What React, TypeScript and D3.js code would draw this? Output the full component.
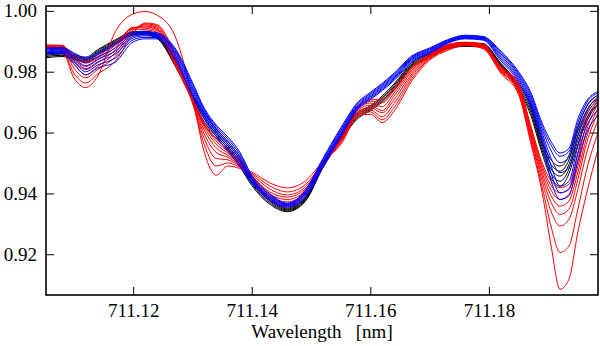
import React, { useEffect, useRef } from "react";
import * as d3 from "d3";

// wavelength grid (nm) shared by all the profiles
const wavelength = [
  711.1053, 711.108, 711.11, 711.112, 711.114, 711.117, 711.12, 711.122, 711.124, 711.127,
  711.13, 711.132, 711.134, 711.136, 711.138, 711.14, 711.143, 711.146, 711.149, 711.152,
  711.155, 711.158, 711.16, 711.162, 711.164, 711.167, 711.17, 711.173, 711.176, 711.179,
  711.182, 711.185, 711.187, 711.189, 711.1905, 711.192, 711.1935, 711.195, 711.1965, 711.1984,
];

// black profiles
const black1 = [.9862,.9866,.9856,.9848,.9872,.9905,.9932,.9933,.9922,.9838,.9725,.9665,.9612,.9570,.9520,.9450,.9385,.9352,.9385,.9500,.9590,.9668,.9688,.9720,.9760,.9830,.9862,.9888,.9895,.9893,.9828,.9760,.9700,.9570,.9510,.9490,.9525,.9620,.9685,.9725];
const black2 = [.9858,.9862,.9852,.9844,.9868,.9902,.9929,.9930,.9919,.9834,.9720,.9655,.9604,.9563,.9512,.9444,.9380,.9349,.9382,.9496,.9586,.9663,.9684,.9715,.9755,.9826,.9858,.9885,.9892,.9890,.9825,.9755,.9690,.9560,.9495,.9473,.9510,.9605,.9672,.9718];
const black3 = [.9854,.9858,.9848,.9840,.9864,.9898,.9926,.9928,.9916,.9830,.9715,.9645,.9596,.9556,.9504,.9438,.9375,.9346,.9379,.9492,.9582,.9658,.9680,.9710,.9750,.9822,.9854,.9882,.9889,.9887,.9822,.9750,.9680,.9550,.9480,.9457,.9495,.9590,.9660,.9710];
const black4 = [.9850,.9854,.9844,.9836,.9860,.9895,.9923,.9925,.9913,.9826,.9710,.9635,.9588,.9549,.9496,.9432,.9370,.9343,.9376,.9488,.9578,.9653,.9676,.9705,.9745,.9818,.9850,.9879,.9886,.9884,.9819,.9745,.9670,.9540,.9465,.9440,.9480,.9575,.9648,.9703];
const black5 = [.9846,.9850,.9840,.9832,.9856,.9892,.9920,.9922,.9910,.9822,.9705,.9625,.9580,.9542,.9488,.9426,.9365,.9340,.9373,.9484,.9574,.9648,.9672,.9700,.9740,.9814,.9846,.9876,.9883,.9881,.9816,.9740,.9660,.9530,.9450,.9424,.9465,.9560,.9636,.9696];

// red profiles
const red1 = [.9878,.9870,.9780,.9748,.9785,.9932,.9990,.9998,.9986,.9920,.9715,.9535,.9460,.9490,.9482,.9470,.9435,.9418,.9440,.9505,.9560,.9655,.9660,.9633,.9670,.9770,.9838,.9870,.9886,.9876,.9795,.9725,.9570,.9400,.9226,.9085,.9118,.9272,.9402,.9544];
const red2 = [.9880,.9874,.9795,.9763,.9792,.9835,.9925,.9960,.9955,.9860,.9700,.9560,.9490,.9500,.9486,.9466,.9425,.9405,.9428,.9500,.9565,.9660,.9668,.9642,.9682,.9778,.9842,.9873,.9888,.9878,.9800,.9731,.9580,.9420,.9290,.9206,.9227,.9348,.9479,.9600];
const red3 = [.9882,.9879,.9812,.9780,.9807,.9850,.9932,.9957,.9951,.9852,.9698,.9580,.9515,.9510,.9490,.9462,.9415,.9395,.9420,.9498,.9570,.9665,.9675,.9652,.9695,.9786,.9845,.9876,.9890,.9880,.9803,.9737,.9590,.9440,.9340,.9293,.9315,.9413,.9534,.9640];
const red4 = [.9885,.9883,.9826,.9790,.9817,.9862,.9938,.9954,.9947,.9845,.9700,.9595,.9535,.9518,.9494,.9458,.9405,.9388,.9414,.9496,.9575,.9670,.9682,.9665,.9708,.9793,.9848,.9879,.9892,.9882,.9806,.9742,.9598,.9455,.9370,.9331,.9348,.9446,.9567,.9665];
const red5 = [.9888,.9886,.9836,.9807,.9829,.9872,.9942,.9950,.9943,.9838,.9702,.9608,.9550,.9525,.9498,.9455,.9397,.9380,.9408,.9494,.9580,.9675,.9690,.9672,.9720,.9800,.9851,.9882,.9894,.9884,.9809,.9747,.9606,.9468,.9392,.9358,.9375,.9469,.9587,.9680];
const red6 = [.9886,.9887,.9844,.9817,.9839,.9880,.9945,.9947,.9939,.9832,.9705,.9618,.9562,.9532,.9502,.9452,.9390,.9372,.9402,.9492,.9584,.9680,.9697,.9685,.9730,.9806,.9853,.9885,.9895,.9886,.9812,.9752,.9613,.9480,.9410,.9380,.9397,.9489,.9610,.9693];
const red7 = [.9883,.9886,.9850,.9828,.9845,.9888,.9946,.9943,.9935,.9828,.9708,.9626,.9572,.9538,.9506,.9449,.9384,.9365,.9396,.9490,.9588,.9684,.9703,.9698,.9738,.9811,.9855,.9887,.9896,.9888,.9815,.9756,.9620,.9490,.9425,.9402,.9413,.9511,.9633,.9705];
const red8 = [.9880,.9884,.9853,.9834,.9850,.9895,.9940,.9938,.9930,.9825,.9710,.9632,.9580,.9545,.9510,.9446,.9378,.9358,.9390,.9488,.9592,.9688,.9708,.9708,.9745,.9816,.9857,.9889,.9897,.9890,.9818,.9760,.9627,.9500,.9440,.9419,.9430,.9534,.9666,.9715];

// blue profiles
const blue1 = [.9878,.9880,.9862,.9845,.9862,.9895,.9930,.9932,.9928,.9880,.9765,.9680,.9625,.9585,.9535,.9460,.9400,.9368,.9410,.9515,.9615,.9702,.9732,.9762,.9795,.9852,.9878,.9905,.9920,.9916,.9868,.9800,.9735,.9630,.9570,.9533,.9548,.9645,.9705,.9735];
const blue2 = [.9875,.9877,.9858,.9840,.9856,.9888,.9926,.9929,.9925,.9875,.9758,.9675,.9620,.9578,.9528,.9455,.9396,.9366,.9406,.9510,.9610,.9698,.9728,.9758,.9791,.9849,.9875,.9903,.9918,.9914,.9864,.9795,.9728,.9620,.9558,.9522,.9538,.9632,.9698,.9730];
const blue3 = [.9872,.9874,.9852,.9830,.9848,.9878,.9921,.9926,.9922,.9870,.9750,.9670,.9614,.9570,.9520,.9450,.9392,.9364,.9402,.9505,.9605,.9694,.9724,.9754,.9787,.9846,.9872,.9901,.9916,.9912,.9859,.9790,.9720,.9610,.9540,.9501,.9518,.9615,.9688,.9722];
const blue4 = [.9868,.9871,.9846,.9820,.9840,.9868,.9916,.9922,.9919,.9865,.9743,.9664,.9608,.9562,.9512,.9446,.9388,.9362,.9398,.9500,.9600,.9690,.9720,.9750,.9783,.9843,.9869,.9899,.9914,.9910,.9854,.9784,.9712,.9598,.9515,.9468,.9485,.9590,.9672,.9710];
const blue5 = [.9865,.9868,.9840,.9810,.9832,.9858,.9911,.9918,.9916,.9858,.9736,.9658,.9601,.9554,.9504,.9442,.9384,.9360,.9394,.9495,.9595,.9686,.9716,.9746,.9779,.9840,.9866,.9897,.9912,.9908,.9848,.9778,.9704,.9588,.9490,.9424,.9440,.9555,.9645,.9690];
const blue6 = [.9862,.9864,.9832,.9800,.9822,.9845,.9905,.9913,.9912,.9850,.9728,.9652,.9594,.9546,.9496,.9438,.9380,.9358,.9390,.9490,.9590,.9682,.9712,.9742,.9775,.9836,.9863,.9895,.9910,.9906,.9842,.9772,.9696,.9578,.9465,.9402,.9415,.9530,.9622,.9672];
const blue7 = [.9858,.9860,.9825,.9790,.9812,.9832,.9898,.9908,.9908,.9842,.9720,.9645,.9587,.9538,.9488,.9434,.9376,.9355,.9386,.9485,.9585,.9678,.9708,.9738,.9771,.9832,.9860,.9893,.9908,.9904,.9836,.9766,.9688,.9568,.9440,.9380,.9392,.9505,.9600,.9655];

const xTicks = [711.12, 711.14, 711.16, 711.18];
const yTicks = [0.92, 0.94, 0.96, 0.98, 1.0];

const groups = [
  { color: "#000000", profiles: [black1, black2, black3, black4, black5] },
  { color: "#ff0000", profiles: [red1, red2, red3, red4, red5, red6, red7, red8] },
  { color: "#0000ff", profiles: [blue1, blue2, blue3, blue4, blue5, blue6, blue7] },
];

const W = 600;
const H = 346;
const FONT = "Liberation Serif, DejaVu Serif, serif";

function App() {
  const svgRef = useRef(null);

  useEffect(() => {
    const svg = d3.select(svgRef.current);
    svg.selectAll("*").remove();

    const left = 46, right = 598, top = 6, bottom = 295;

    const x = d3.scaleLinear().domain([711.1053, 711.1984]).range([left, right]);
    const y = d3.scaleLinear().domain([0.9066, 1.0016]).range([bottom, top]);

    svg.append("defs")
      .append("clipPath").attr("id", "plotClip")
      .append("rect")
      .attr("x", left).attr("y", top)
      .attr("width", right - left).attr("height", bottom - top);

    const line = d3.line()
      .x((d, i) => x(wavelength[i]))
      .y((d) => y(d))
      .curve(d3.curveMonotoneX);

    // profiles
    const plot = svg.append("g").attr("clip-path", "url(#plotClip)");
    groups.forEach((g) => {
      plot.append("g")
        .selectAll("path")
        .data(g.profiles)
        .join("path")
        .attr("fill", "none")
        .attr("stroke", g.color)
        .attr("stroke-width", 1)
        .attr("d", (d) => line(d));
    });

    // axes, ticks pointing inward on all four sides
    const styleAxis = (sel) => {
      sel.attr("font-family", FONT).attr("font-size", 19);
      sel.select(".domain").remove();
      sel.selectAll(".tick line").attr("stroke", "#000").attr("stroke-width", 1);
      sel.selectAll(".tick text").attr("fill", "#000");
    };

    svg.append("g")
      .attr("transform", `translate(0,${bottom})`)
      .call(d3.axisBottom(x).tickValues(xTicks).tickSize(-8).tickPadding(9).tickFormat(d3.format(".2f")))
      .call(styleAxis);
    svg.append("g")
      .attr("transform", `translate(0,${top})`)
      .call(d3.axisTop(x).tickValues(xTicks).tickSize(-8).tickFormat(() => ""))
      .call(styleAxis);
    svg.append("g")
      .attr("transform", `translate(${left},0)`)
      .call(d3.axisLeft(y).tickValues(yTicks).tickSize(-8).tickPadding(9).tickFormat(d3.format(".2f")))
      .call(styleAxis);
    svg.append("g")
      .attr("transform", `translate(${right},0)`)
      .call(d3.axisRight(y).tickValues(yTicks).tickSize(-8).tickFormat(() => ""))
      .call(styleAxis);

    // frame
    svg.append("rect")
      .attr("x", left).attr("y", top)
      .attr("width", right - left).attr("height", bottom - top)
      .attr("fill", "none")
      .attr("stroke", "#000")
      .attr("stroke-width", 1.6);

    // x label
    svg.append("text")
      .attr("x", (left + right) / 2)
      .attr("y", 338)
      .attr("text-anchor", "middle")
      .attr("font-family", FONT)
      .attr("font-size", 19)
      .style("white-space", "pre")
      .text("Wavelength   [nm]");
  }, []);

  return (
    <div style={{ position: "absolute", left: 0, top: 0 }}>
      <svg ref={svgRef} width={W} height={H} style={{ display: "block", background: "#fff" }} />
    </div>
  );
}

export default App;
